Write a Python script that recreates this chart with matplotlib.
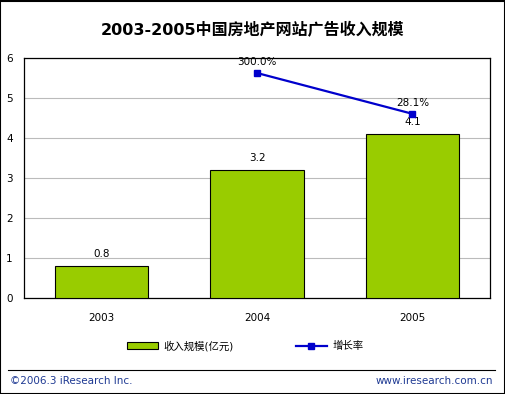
import matplotlib

matplotlib.use("Agg")
import matplotlib.pyplot as plt
from matplotlib.lines import Line2D
from matplotlib.patches import Patch, Rectangle

plt.rcParams["font.family"] = ["DejaVu Sans", "Noto Sans CJK SC"]
plt.rcParams["font.size"] = 7.5

years = ["2003", "2004", "2005"]
revenue = [0.8, 3.2, 4.1]
growth_years = ["2004", "2005"]
growth = [300.0, 28.1]
growth_labels = ["300.0%", "28.1%"]
y_ticks = [0, 1, 2, 3, 4, 5, 6]

W, H = 506, 394
fig = plt.figure(figsize=(W / 100, H / 100), dpi=100)
fig.patch.set_facecolor("white")

# plot area in pixels: left 24, right 490, top 58, bottom 298
ax = fig.add_axes([24 / W, 1 - 298 / H, (490 - 24) / W, (298 - 58) / H])
xs = list(range(len(years)))
ax.bar(xs, revenue, width=0.6, color="#99CC00", edgecolor="black", linewidth=0.8, zorder=3)
for x, v in zip(xs, revenue):
    ax.text(x, v + 0.31, f"{v:g}", ha="center", va="center", fontsize=7.5, zorder=5)

ax.set_xlim(-0.5, 2.5)
ax.set_ylim(0, 6)
ax.set_yticks(y_ticks)
ax.set_xticks(xs)
ax.set_xticklabels(years)
ax.tick_params(axis="x", length=0, pad=11)
ax.tick_params(axis="y", length=0, pad=8)
ax.grid(axis="y", color="#BBBBBB", linewidth=0.8, zorder=0)
for s in ax.spines.values():
    s.set_color("black")
    s.set_linewidth(0.9)

ax2 = ax.twinx()
ax2.set_ylim(-1200, 400)
ax2.axis("off")
gx = [years.index(y) for y in growth_years]
ax2.plot(gx, growth, color="#0000CC", linewidth=1.6, marker="s", markersize=4.5, zorder=6)
for x, g, lab in zip(gx, growth, growth_labels):
    ax2.annotate(lab, (x, g), xytext=(0, 4), textcoords="offset points",
                 ha="center", va="bottom", fontsize=7.5)

fig.text(253 / W, 1 - 30 / H, "2003-2005中国房地产网站广告收入规模", ha="center", va="center",
         fontsize=11.5, fontweight="bold")

handles = [Patch(facecolor="#99CC00", edgecolor="black", linewidth=0.8),
           Line2D([0], [0], color="#0000CC", linewidth=1.6, marker="s", markersize=4.5)]
fig.legend(handles, ["收入规模(亿元)", "增长率"], loc="center", bbox_to_anchor=(245 / W, 1 - 346 / H),
           ncol=2, frameon=False, fontsize=7.5, columnspacing=6, handlelength=3, handletextpad=0.5)

fig.add_artist(Line2D([8 / W, 495 / W], [1 - 370 / H, 1 - 370 / H], color="black", linewidth=0.8))
fig.text(10 / W, 1 - 381 / H, "©2006.3 iResearch Inc.", ha="left", va="center", color="#1F3A93", fontsize=7.5)
fig.text(493 / W, 1 - 381 / H, "www.iresearch.com.cn", ha="right", va="center", color="#1F3A93", fontsize=7.5)

fig.add_artist(Rectangle((0.5 / W, 0.5 / H), 1 - 1.5 / W, 1 - 1.5 / H, transform=fig.transFigure,
                         fill=False, edgecolor="black", linewidth=1.5))

fig.savefig("out.png", dpi=100)
